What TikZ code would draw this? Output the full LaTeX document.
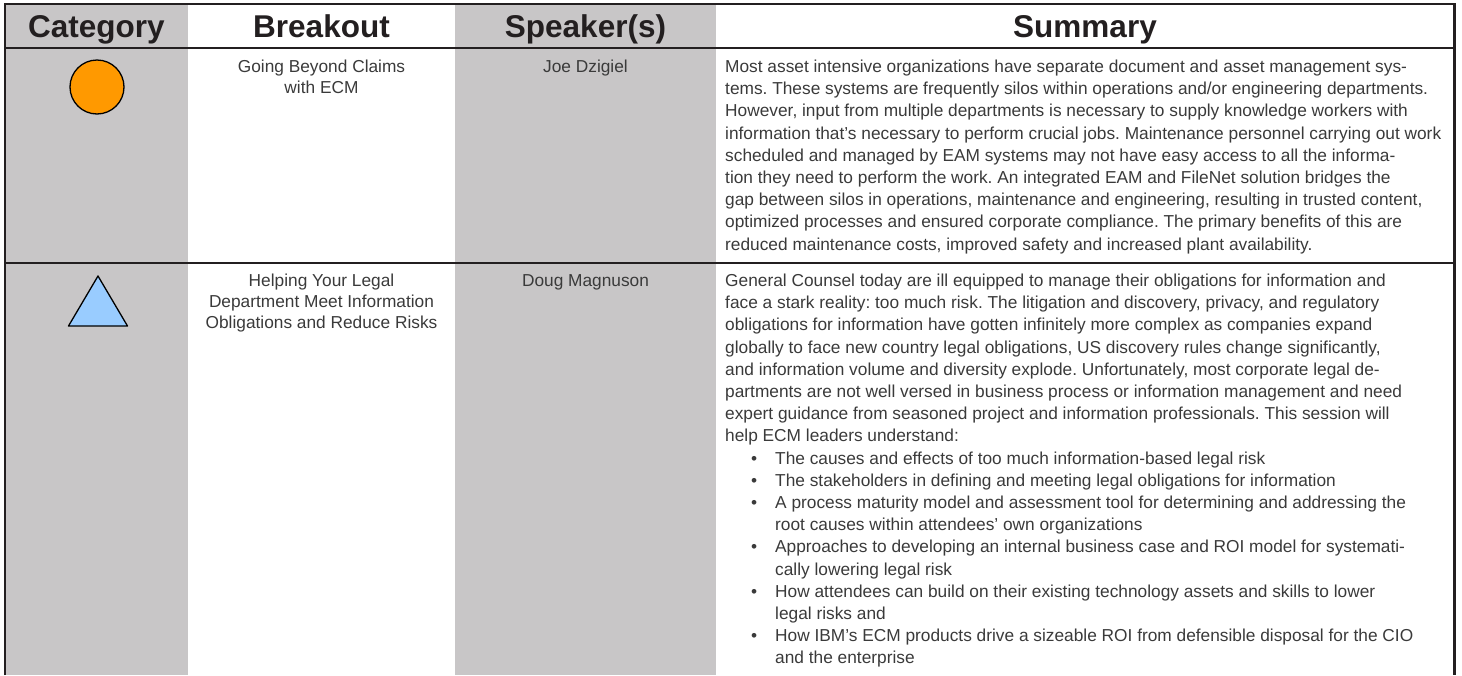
\documentclass[tikz,border=0pt]{standalone}
\usepackage{fontspec}
\setmainfont{Liberation Sans}
\definecolor{colgray}{RGB}{200,198,199}
\definecolor{ruleink}{RGB}{35,31,32}
\definecolor{hdrink}{RGB}{35,31,32}
\definecolor{bodyink}{RGB}{58,58,58}
\definecolor{catorange}{RGB}{255,153,0}
\definecolor{catblue}{RGB}{153,204,255}
\newcommand\myl[1]{\hbox{#1}}
\newcommand\myc[1]{\hbox to 0pt{\hss#1\hss}}
\newcommand\myb[1]{\hbox{\hspace{26pt}\makebox[24pt][l]{•}#1}}
\newcommand\myi[1]{\hbox{\hspace{50pt}#1}}
\begin{document}
\begin{tikzpicture}[x=1pt,y=-1pt,
  frame/.style={draw=ruleink,line width=2.6pt},
  rowrule/.style={draw=ruleink,line width=2pt},
  hdr/.style={anchor=base,inner sep=0pt,text=hdrink,font=\fontsize{31.5}{36}\selectfont\bfseries},
  body/.style={anchor=base west,inner sep=0pt,text=bodyink,font=\fontsize{17.3}{22.2}\selectfont\frenchspacing},
  cbody/.style={anchor=base,inner sep=0pt,text=bodyink,font=\fontsize{17.3}{20.8}\selectfont\frenchspacing},
  symb/.style={draw=black,line width=1.3pt,line join=round}]
\useasboundingbox (0,0) rectangle (1462,675);
% column shading
\fill[colgray] (5,4) rectangle (188,675);
\fill[colgray] (455,4) rectangle (716,675);
% rules
\draw[frame] (5,675) -- (5,4) -- (1454.7,4) -- (1454.7,675);
\draw[rowrule] (5,48.3) -- (1454.7,48.3);
\draw[rowrule] (5,262.5) -- (1454.7,262.5);
% header
\node[hdr] (hcat) at (96.5,37.5) {Category};
\node[hdr] (hbrk) at (321.5,37.5) {Breakout};
\node[hdr] (hspk) at (585.5,37.5) {Speaker(s)};
\node[hdr] (hsum) at (1085,37.5) {Summary};
% row 1
\node[circle,symb,fill=catorange,minimum size=54pt,inner sep=0pt] (cat1) at (97,87) {};
\node[cbody] (brk1) at (321.5,72.5) {\vtop{\myc{Going Beyond Claims}\myc{with ECM}}};
\node[cbody] (spk1) at (585.5,72.5) {Joe Dzigiel};
\node[body] (sum1) at (725,72.5) {\vtop{%
\myl{Most asset intensive organizations have separate document and asset management sys-}%
\myl{tems. These systems are frequently silos within operations and/or engineering departments.}%
\myl{However, input from multiple departments is necessary to supply knowledge workers with}%
\myl{information that’s necessary to perform crucial jobs. Maintenance personnel carrying out work}%
\myl{scheduled and managed by EAM systems may not have easy access to all the informa-}%
\myl{tion they need to perform the work. An integrated EAM and FileNet solution bridges the}%
\myl{gap between silos in operations, maintenance and engineering, resulting in trusted content,}%
\myl{optimized processes and ensured corporate compliance. The primary benefits of this are}%
\myl{reduced maintenance costs, improved safety and increased plant availability.}}};
% row 2
\draw[symb,fill=catblue] (98,276) -- (127.5,326) -- (68.5,326) -- cycle;
\node[cbody] (brk2) at (321.5,286.5) {\vtop{\myc{Helping Your Legal}\myc{Department Meet Information}\myc{Obligations and Reduce Risks}}};
\node[cbody] (spk2) at (585.5,286.5) {Doug Magnuson};
\node[body] (sum2) at (725,286.5) {\vtop{%
\myl{General Counsel today are ill equipped to manage their obligations for information and}%
\myl{face a stark reality: too much risk. The litigation and discovery, privacy, and regulatory}%
\myl{obligations for information have gotten infinitely more complex as companies expand}%
\myl{globally to face new country legal obligations, US discovery rules change significantly,}%
\myl{and information volume and diversity explode. Unfortunately, most corporate legal de-}%
\myl{partments are not well versed in business process or information management and need}%
\myl{expert guidance from seasoned project and information professionals. This session will}%
\myl{help ECM leaders understand:}%
\myb{The causes and effects of too much information-based legal risk}%
\myb{The stakeholders in defining and meeting legal obligations for information}%
\myb{A process maturity model and assessment tool for determining and addressing the}%
\myi{root causes within attendees’ own organizations}%
\myb{Approaches to developing an internal business case and ROI model for systemati-}%
\myi{cally lowering legal risk}%
\myb{How attendees can build on their existing technology assets and skills to lower}%
\myi{legal risks and}%
\myb{How IBM’s ECM products drive a sizeable ROI from defensible disposal for the CIO}%
\myi{and the enterprise}}};
\end{tikzpicture}
\end{document}
